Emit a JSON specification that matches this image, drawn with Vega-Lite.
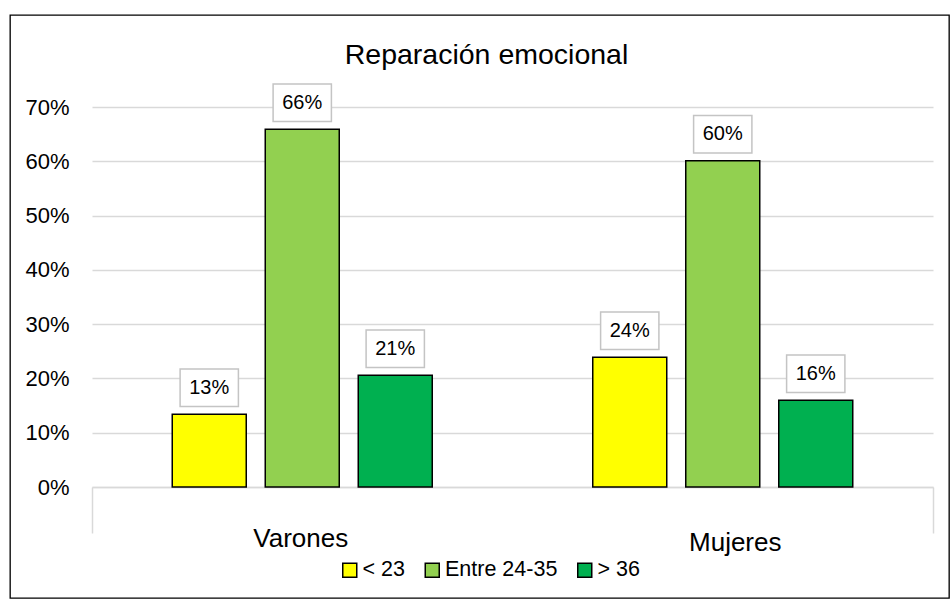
{
  "$schema": "https://vega.github.io/schema/vega-lite/v6.json",
  "autosize": "none",
  "padding": {"left": 10, "top": 15, "right": 1, "bottom": 1},
  "width": 939,
  "height": 583,
  "background": "#ffffff",
  "title": {
    "text": "Reparación emocional",
    "fontSize": 28.5,
    "fontWeight": "normal",
    "color": "#000000",
    "anchor": "middle",
    "frame": "group",
    "baseline": "alphabetic",
    "offset": -77,
    "dx": 7
  },
  "data": {
    "values": [
      {"grupo": "Varones", "edad": "< 23", "valor": 0.134},
      {"grupo": "Varones", "edad": "Entre 24-35", "valor": 0.659},
      {"grupo": "Varones", "edad": "> 36", "valor": 0.206},
      {"grupo": "Mujeres", "edad": "< 23", "valor": 0.239},
      {"grupo": "Mujeres", "edad": "Entre 24-35", "valor": 0.601},
      {"grupo": "Mujeres", "edad": "> 36", "valor": 0.160}
    ]
  },
  "encoding": {
    "x": {
      "field": "grupo",
      "type": "nominal",
      "sort": ["Varones", "Mujeres"],
      "scale": {"range": [82, 923], "paddingInner": 0, "paddingOuter": 0},
      "axis": {
        "title": null,
        "orient": "bottom",
        "offset": -111,
        "labelAngle": 0,
        "domainColor": "#d9d9d9",
        "domainWidth": 1.5,
        "ticks": true,
        "tickBand": "extent",
        "tickColor": "#d9d9d9",
        "tickWidth": 1.5,
        "tickSize": 46,
        "tickOpacity": {"condition": {"test": "datum.value === 'Varones'", "value": 0}, "value": 1},
        "labelFontSize": 26,
        "labelColor": "#000000",
        "labelBaseline": "top",
        "labelPadding": {"condition": {"test": "datum.value === 'Mujeres'", "value": -4}, "value": -8},
        "labelOffset": {"condition": {"test": "datum.value === 'Mujeres'", "value": 12}, "value": -2},
        "grid": false
      }
    },
    "xOffset": {
      "field": "edad",
      "type": "nominal",
      "sort": ["< 23", "Entre 24-35", "> 36"],
      "scale": {"paddingInner": 0.2043, "paddingOuter": 0.8629}
    },
    "y": {
      "field": "valor",
      "type": "quantitative",
      "scale": {"domain": [0, 0.7], "range": [472, 92], "nice": false, "zero": true},
      "axis": {
        "title": null,
        "orient": "left",
        "offset": -64,
        "format": ".0%",
        "values": [0, 0.1, 0.2, 0.3, 0.4, 0.5, 0.6, 0.7],
        "domain": false,
        "ticks": false,
        "labelFontSize": 22,
        "labelColor": "#000000",
        "labelPadding": 5,
        "grid": true,
        "gridColor": "#d9d9d9",
        "gridWidth": 1.5
      }
    }
  },
  "layer": [
    {
      "mark": {"type": "bar", "stroke": "#000000", "strokeWidth": 1.5},
      "encoding": {
        "color": {
          "field": "edad",
          "type": "nominal",
          "scale": {
            "domain": ["< 23", "Entre 24-35", "> 36"],
            "range": ["#ffff00", "#92d050", "#00b050"]
          },
          "legend": {
            "title": null,
            "orient": "none",
            "direction": "horizontal",
            "legendX": 329,
            "legendY": 544,
            "padding": 0,
            "symbolType": "square",
            "symbolSize": 196,
            "symbolStrokeColor": "#000000",
            "symbolStrokeWidth": 1.5,
            "symbolOpacity": 1,
            "labelFontSize": 21.5,
            "labelColor": "#000000",
            "labelOffset": 2,
            "columnPadding": 16.5
          }
        }
      }
    },
    {
      "mark": {
        "type": "point",
        "shape": "M-1,-0.643L1,-0.643L1,0.643L-1,0.643Z",
        "size": 3399,
        "filled": true,
        "fill": "#ffffff",
        "stroke": "#c4c4c4",
        "strokeWidth": 1.5,
        "opacity": 1,
        "yOffset": -26.5
      }
    },
    {
      "mark": {
        "type": "text",
        "fontSize": 20,
        "baseline": "middle",
        "color": "#000000",
        "yOffset": -26.5
      },
      "encoding": {
        "text": {"field": "valor", "type": "quantitative", "format": ".0%"}
      }
    }
  ],
  "config": {
    "font": "Liberation Sans",
    "view": {"stroke": "#000000", "strokeWidth": 1.33}
  }
}
